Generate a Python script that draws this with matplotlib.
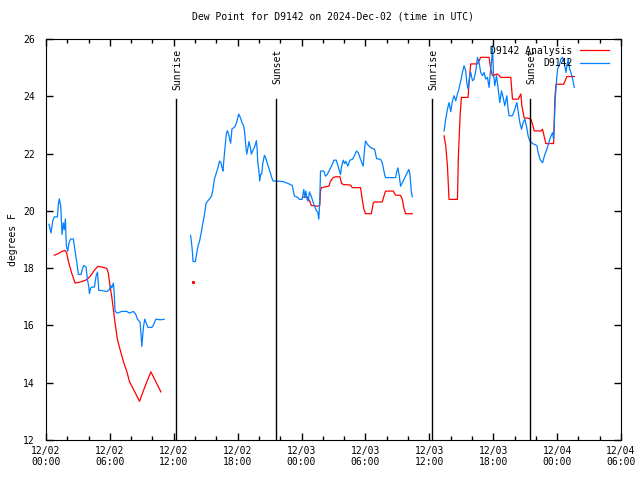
import numpy as np
import matplotlib.pyplot as plt
from matplotlib.ticker import MultipleLocator

nan = np.nan

# hours since 12/02 00:00 UTC
blue_h = [0.28, 0.47, 0.63, 0.78, 1.07, 1.16, 1.25, 1.38, 1.51, 1.63, 1.72, 1.82, 1.91, 2.04,
          2.16, 2.32, 2.57, 2.73, 2.89, 3.04, 3.29, 3.45, 3.55, 3.76, 3.89, 4.01, 4.08, 4.20,
          4.33, 4.55, 4.70, 4.83, 4.96, 5.24, 5.71, 5.96, 6.09, 6.18, 6.33, 6.40, 6.49, 6.71,
          7.12, 7.59, 7.84, 8.21, 8.44, 8.59, 8.84, 8.91, 9.00, 9.16, 9.28, 9.41, 9.57, 9.94,
          10.10, 10.32, 10.66, 10.88, 11.10, nan,
          13.58, 13.67, 13.77, 13.80, 14.02, 14.14, 14.27, 14.42, 14.55, 14.71, 14.83, 14.93,
          15.02, 15.18, 15.36, 15.55, 15.68, 15.81, 15.96, 16.15, 16.30, 16.43, 16.53, 16.62,
          16.68, 16.84, 16.93, 17.03, 17.15, 17.25, 17.34, 17.47, 17.62, 17.78, 17.94, 18.10,
          18.25, 18.41, 18.57, 18.66, 18.75, 18.85, 18.94, 19.07, 19.19, 19.29, 19.41, 19.57,
          19.66, 19.76, 19.82, 19.88, 20.01, 20.07, 20.16, 20.26, 20.35, 20.51, 20.63, 20.76,
          20.91, 21.07, 21.20, 21.33, 21.70, 22.27, 22.71, 23.12, 23.33, 23.59, 23.83, 24.05,
          24.21, 24.30, 24.40, 24.52, 24.62, 24.74, 24.90, 25.15, 25.40, 25.52, 25.62, 25.71,
          25.78, 26.09, 26.25, 26.41, 26.66, 26.88, 27.04, 27.26, 27.51, 27.66, 27.76, 27.92,
          28.04, 28.16, 28.35, 28.54, 28.79, 28.98, 29.16, 29.33, 29.54, 29.79, 29.92, 30.01,
          30.17, 30.48, 30.86, 31.05, 31.42, 31.58, 31.80, 31.89, 32.20, 32.83, 32.93, 33.05,
          33.18, 33.30, 33.46, 33.61, 33.77, 33.93, 34.08, 34.18, 34.24, 34.31, 34.40, nan,
          37.38, 37.54, 37.70, 37.85, 38.01, 38.17, 38.32, 38.48, 38.64, 38.79, 38.95, 39.11,
          39.26, 39.42, 39.51, 39.64, 39.80, 39.89, 40.05, 40.20, 40.36, 40.52, 40.67, 40.83,
          40.99, 41.14, 41.30, 41.46, 41.61, 41.70, 41.84, 41.93, 42.02, 42.15, 42.31, 42.46,
          42.62, 42.78, 42.93, 43.09, 43.28, 43.40, 43.49, 43.81, 44.03, 44.22, 44.34, 44.50,
          44.66, 44.81, 44.97, 45.13, 45.28, 45.44, 45.70, 46.10, 46.22, 46.41, 46.63, 46.85,
          47.04, 47.26, 47.42, 47.57, 47.67, 47.73, 47.82, 47.92, 48.04, 48.20, 48.36, 48.51,
          48.67, 48.83, 48.92, 49.05, 49.18, 49.30, 49.46, 49.62]
blue_v = [19.53, 19.23, 19.64, 19.79, 19.79, 20.23, 20.42, 20.17, 19.18, 19.58, 19.35, 19.72, 18.77, 18.59,
          18.88, 19.02, 19.02, 18.59, 18.21, 17.78, 17.78, 18.01, 18.09, 18.04, 17.60, 17.37, 17.11, 17.31,
          17.34, 17.34, 17.72, 17.86, 17.22, 17.22, 17.18, 17.25, 17.39, 17.31, 17.48, 17.13, 16.49, 16.43,
          16.49, 16.49, 16.43, 16.49, 16.38, 16.22, 16.11, 15.74, 15.27, 15.97, 16.22, 16.08, 15.93, 15.93,
          16.02, 16.22, 16.20, 16.20, 16.22, nan,
          19.14, 18.88, 18.48, 18.24, 18.22, 18.48, 18.77, 18.94, 19.18, 19.53, 19.76, 19.99,
          20.26, 20.34, 20.42, 20.52, 20.75, 21.10, 21.28, 21.51, 21.74, 21.68, 21.51, 21.39,
          21.68, 22.33, 22.68, 22.80, 22.68, 22.50, 22.36, 22.87, 22.90, 22.96, 23.14, 23.38,
          23.26, 23.08, 22.96, 22.73, 22.33, 21.98, 22.15, 22.42, 22.21, 21.98, 22.10, 22.21,
          22.33, 22.45, 22.21, 21.74, 21.33, 21.04, 21.28, 21.28, 21.63, 21.94, 21.86, 21.68,
          21.51, 21.33, 21.16, 21.04, 21.04, 21.02, 20.96, 20.89, 20.52, 20.48, 20.40, 20.40,
          20.75, 20.46, 20.69, 20.40, 20.34, 20.66, 20.52, 20.23, 20.00, 19.96, 19.71, 20.34,
          21.39, 21.39, 21.21, 21.27, 21.45, 21.62, 21.77, 21.77, 21.45, 21.27, 21.56, 21.77,
          21.65, 21.73, 21.56, 21.77, 21.80, 21.94, 22.09, 22.03, 21.80, 21.56, 22.15, 22.44,
          22.33, 22.21, 22.15, 21.82, 21.80, 21.68, 21.27, 21.16, 21.16, 21.16, 21.35, 21.50,
          21.21, 20.86, 20.98, 21.10, 21.21, 21.33, 21.45, 21.27, 20.98, 20.66, 20.49, nan,
          22.79, 23.20, 23.55, 23.78, 23.46, 23.84, 24.02, 23.84, 24.08, 24.27, 24.54, 24.83,
          25.07, 24.89, 24.48, 24.25, 24.72, 24.83, 24.54, 24.60, 24.89, 25.36, 25.18, 24.83,
          24.72, 24.83, 24.60, 24.66, 24.31, 24.72, 25.18, 25.77, 24.83, 24.37, 24.72, 24.25,
          23.78, 24.19, 23.96, 23.67, 24.02, 23.55, 23.32, 23.32, 23.55, 23.78, 23.49, 23.08,
          22.85, 23.08, 23.20, 22.94, 22.61, 22.44, 22.35, 22.28, 22.03, 21.79, 21.68, 21.97,
          22.15, 22.44, 22.61, 22.73, 22.50, 22.96, 23.90, 24.42, 24.95, 25.07, 25.30, 25.36,
          25.18, 24.83, 25.07, 25.30, 24.95, 24.83, 24.60, 24.31]

red_h = [0.78, 1.16, 1.47, 1.79, 1.94, 2.10, 2.41, 2.73, 3.04, 3.51, 3.83, 4.14, 4.55, 4.86,
         5.24, 5.71, 5.86, 6.02, 6.18, 6.33, 6.49, 6.71, 6.96, 7.27, 7.59, 7.84, 8.31, 8.78,
         9.31, 9.85, 10.79, nan,
         24.15, 24.52, 24.77, 24.90, 25.47, 25.71, 25.78, 25.87, 26.25, 26.56, 26.72, 26.97,
         27.19, 27.60, 27.76, 27.92, 28.60, 28.76, 29.54, 29.70, 29.86, 30.01, 30.55, 30.74,
         30.86, 31.58, 31.74, 31.89, 32.61, 32.83, 33.30, 33.46, 33.61, 33.77, 34.40, nan,
         37.38, 37.54, 37.70, 37.85, 38.64, 38.73, 38.89, 39.01, 39.64, 39.73, 39.89, 40.52,
         40.83, 41.61, 41.77, 41.93, 42.40, 42.71, 43.65, 43.81, 44.34, 44.60, 44.69, 44.91,
         45.22, 45.53, 45.69, 45.85, 46.48, 46.63, 46.79, 46.94, 47.67, 47.79, 47.89, 48.61,
         48.92, 49.62]
red_v = [18.45, 18.51, 18.58, 18.62, 18.53, 18.24, 17.83, 17.48, 17.50, 17.55, 17.60, 17.71, 17.93, 18.06,
         18.04, 17.99, 17.81, 17.35, 16.99, 16.55, 16.07, 15.50, 15.15, 14.74, 14.39, 14.04, 13.70, 13.35,
         13.88, 14.38, 13.68, nan,
         20.48, 20.48, 20.34, 20.19, 20.16, 20.19, 20.69, 20.81, 20.84, 20.86, 21.04, 21.16,
         21.19, 21.19, 20.96, 20.92, 20.90, 20.81, 20.81, 20.40, 20.05, 19.90, 19.90, 20.28,
         20.31, 20.31, 20.52, 20.69, 20.69, 20.55, 20.54, 20.40, 20.10, 19.90, 19.90, nan,
         22.62, 22.27, 21.57, 20.40, 20.40, 21.92, 23.32, 23.96, 23.96, 24.48, 25.13, 25.13,
         25.36, 25.36, 24.95, 24.72, 24.78, 24.66, 24.66, 23.90, 23.90, 24.08, 23.67, 23.24,
         23.24, 23.20, 23.03, 22.79, 22.79, 22.85, 22.59, 22.35, 22.35, 23.90, 24.42, 24.42,
         24.69, 24.69]
red_dot_h = [13.77]
red_dot_v = [17.52]

sun_h = [12.18, 21.57, 36.22, 45.45]
sun_labels = ['Sunrise', 'Sunset', 'Sunrise', 'Sunset']

tick_h = [0, 6, 12, 18, 24, 30, 36, 42, 48, 54]
tick_labels = ['12/02\n00:00', '12/02\n06:00', '12/02\n12:00', '12/02\n18:00', '12/03\n00:00',
               '12/03\n06:00', '12/03\n12:00', '12/03\n18:00', '12/04\n00:00', '12/04\n06:00']

plt.rcParams['font.family'] = ['DejaVu Sans Mono']
plt.rcParams['font.size'] = 7

fig = plt.figure(figsize=(6.4, 4.8), dpi=100)
ax = fig.add_axes([46/640, 1-440/480, 575/640, 401/480])

ax.plot(red_h, red_v, color='#ff0000', lw=0.9, label='D9142 Analysis')
ax.plot(red_dot_h, red_dot_v, color='#ff0000', marker='s', ms=1.2, lw=0)
ax.plot(blue_h, blue_v, color='#0080ff', lw=0.9, label='D9142')

for h, lab in zip(sun_h, sun_labels):
    ax.axvline(h, ymin=0, ymax=0.85, color='black', lw=1)
    ax.text(h + 0.15, 25.65, lab, rotation=90, ha='center', va='top', fontsize=7)

ax.set_xlim(0, 54)
ax.set_ylim(12, 26)
ax.set_xticks(tick_h)
ax.set_xticklabels(tick_labels)
ax.xaxis.set_minor_locator(MultipleLocator(2))
ax.set_yticks(range(12, 27, 2))
ax.tick_params(which='both', direction='in', top=True, right=True, width=1)
ax.tick_params(which='major', length=5, pad=4)
ax.tick_params(which='minor', length=3)
ax.tick_params(axis='y', pad=8)

ax.set_title('Dew Point for D9142 on 2024-Dec-02 (time in UTC)', fontsize=7, pad=14)
ax.set_ylabel('degrees F', labelpad=4)

ax.legend(loc='upper right', bbox_to_anchor=(1 - 5/575, 1), frameon=False, markerfirst=False,
          handlelength=3.0, borderaxespad=0.3, labelspacing=0.25, handletextpad=0.8, fontsize=7)

fig.savefig('out.png', dpi=100)
